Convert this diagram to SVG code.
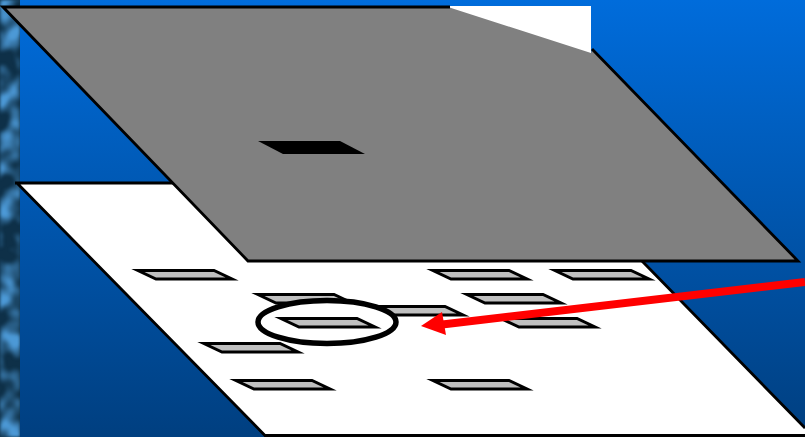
<svg xmlns="http://www.w3.org/2000/svg" width="805" height="437" viewBox="0 0 805 437">
<style>
.e{stroke:#000;stroke-width:2.800;fill:none}
.tile{fill:#c0c0c0;stroke:#000;stroke-width:3;stroke-miterlimit:10}
</style>
<defs>
<linearGradient id="bg" x1="0" y1="0" x2="0" y2="1"><stop offset="0" stop-color="#006cdb"/><stop offset="1" stop-color="#003f80"/></linearGradient>
<filter id="tex" x="0" y="0" width="1" height="1" color-interpolation-filters="sRGB">
<feTurbulence type="fractalNoise" baseFrequency="0.05 0.045" numOctaves="2" seed="11"/>
<feColorMatrix type="matrix" values="0 0 0 0 0.30  0 0 0 0 0.60  0 0 0 0 0.84  2.800 0 0 0 -1.050"/>
<feGaussianBlur stdDeviation="1.500"/>
</filter>
<path id="t" d="M5 1.500H81L99 10H23Z"/>
</defs>
<rect width="805" height="437" fill="url(#bg)"/>
<rect width="20" height="437" fill="#0e3048"/>
<rect width="20" height="437" filter="url(#tex)"/>
<g id="lower-plane">
<path d="M17 183H600L642 261L812 436H265Z" fill="#fff"/>
<path class="e" d="M15 183H180M17 183L265 435.500H805M642 261L805 428"/>
</g>
<g id="tiles">
<use href="#t" class="tile" x="133" y="269"/>
<use href="#t" class="tile" x="253" y="293"/>
<use href="#t" class="tile" x="364" y="305"/>
<use href="#t" class="tile" x="199" y="342"/>
<use href="#t" class="tile" x="231" y="379"/>
<use href="#t" class="tile" x="428" y="269"/>
<use href="#t" class="tile" x="550" y="269"/>
<use href="#t" class="tile" x="462" y="293"/>
<use href="#t" class="tile" x="496" y="317"/>
<use href="#t" class="tile" x="428" y="379"/>
</g>
<g id="highlight">
<ellipse cx="327" cy="322" rx="69" ry="21.500" fill="#fff" stroke="#000" stroke-width="5.500"/>
<use href="#t" class="tile" x="276" y="317"/>
</g>
<g id="upper-plane">
<path d="M447 6H591V54H447Z" fill="#fff"/>
<path d="M3 7H448L591 53L592 49L798 261H248Z" fill="#808080"/>
<path class="e" d="M592 49L798 261H248L3 7H450"/>
<path d="M258 141H340L365 154H283Z" fill="#000"/>
</g>
<g id="connectors">
<path d="M805 282L438 325" stroke="#f00" stroke-width="8" fill="none"/>
<path d="M421 326L442 312L446 335Z" fill="#f00"/>
</g>
</svg>
